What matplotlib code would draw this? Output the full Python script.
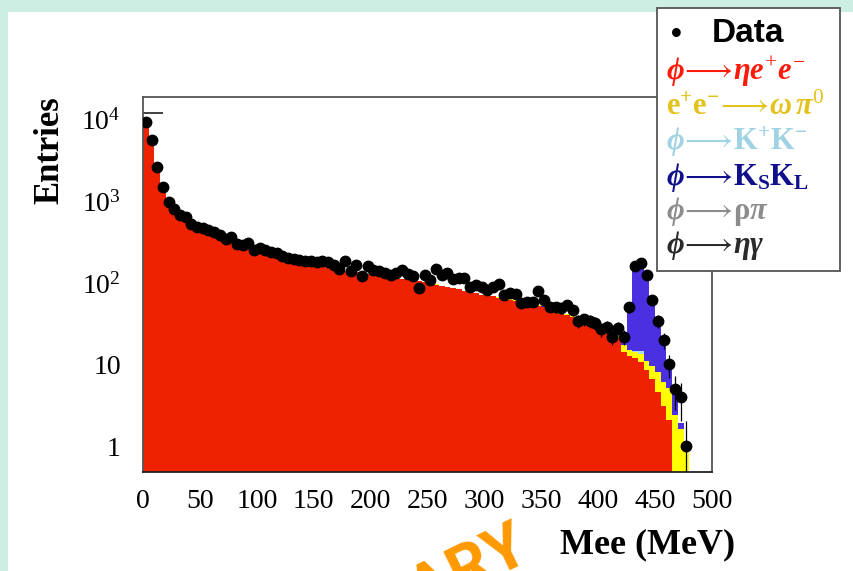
import numpy as np
import matplotlib.pyplot as plt
from matplotlib.patches import Rectangle

# --- histogram data: 5 MeV bins from 0 to 500 MeV ---
bin_edges = np.arange(0, 505, 5)

data_counts = [
    9500, 5600, 2600, 1500, 980, 800, 670, 640, 530, 485,
    470, 440, 425, 390, 345, 360, 300, 290, 305, 250,
    265, 254, 240, 235, 215, 200, 198, 191, 188, 184,
    182, 184, 180, 165, 147, 186, 138, 166, 120, 163,
    145, 141, 132, 125, 131, 144, 128, 120, 86, 125,
    109, 147, 125, 131, 111, 115, 114, 90, 95, 89,
    82, 88, 96, 71, 75, 73, 56, 59, 59, 80,
    62, 51, 50, 49, 54, 46, 34, 36, 34, 32,
    27, 29, 22, 28, 22, 50, 162, 174, 125, 62,
    34, 20, 10, 5, 4, 1, 0, 0, 0, 0,
]

# phi -> eta e+ e- (signal MC)
eta_ee = [
    9000, 5200, 2400, 1400, 900, 740, 630, 580, 510, 465,
    440, 420, 400, 375, 350, 335, 315, 300, 285, 270,
    255, 240, 228, 216, 205, 196, 188, 180, 173, 167,
    160, 156, 152, 148, 144, 141, 138, 135, 132, 130,
    128, 125, 122, 119, 116, 113, 110, 107, 104, 101,
    98, 95, 92, 89, 86, 83, 80, 77, 74, 71,
    70, 68, 66, 64, 62, 60, 58, 56, 54, 52,
    50, 47, 45, 42, 40, 38, 35, 33, 31, 29,
    27, 25, 23, 21, 14, 12.5, 12, 10.5, 8.5, 6.5,
    4.5, 3, 2, 0, 0, 0, 0, 0, 0, 0,
]

# e+e- -> omega pi0
omega_pi0 = [
    0, 0, 0, 0, 0, 0, 0, 0, 0, 0,
    0, 0, 0, 0, 0, 0, 0, 0, 0, 0,
    0, 0, 0, 0, 0, 0, 0, 0, 0, 0,
    0, 0, 0, 0, 0, 0, 0, 0, 0, 0,
    0, 0, 0, 0, 0, 0, 0, 0, 0.5, 0.5,
    0.5, 0.5, 0.5, 0.5, 0.5, 0.5, 0.5, 0.5, 0.5, 0.5,
    0.8, 0.8, 0.8, 0.8, 0.8, 1, 1, 1, 1, 1,
    1, 1, 1, 1.2, 1.2, 1.2, 1.2, 1.3, 1.3, 1.4,
    1.5, 1.5, 2, 2, 3.3, 2.5, 2, 3, 2.5, 3,
    3.5, 3, 3, 2.3, 1.5, 1, 0, 0, 0, 0,
]

# phi -> K+ K-
k_charged = [0] * 86 + [0.6, 1] + [0] * 12

# phi -> Ks KL
ks_kl = [
    0, 0, 0, 0, 0, 0, 0, 0, 0, 0,
    0, 0, 0, 0, 0, 0, 0, 0, 0, 0,
    0, 0, 0, 0, 0, 0, 0, 0, 0, 0,
    0, 0, 0, 0, 0, 0, 0, 0, 0, 0,
    0, 0, 0, 0, 0, 0, 0, 0, 0, 0,
    0, 0, 0, 0, 0, 0, 0, 0, 0, 0,
    0, 0, 0, 0, 0, 0, 0, 0, 0, 0,
    0.5, 0.5, 0.5, 0.5, 0.5, 0.5, 0.5, 0.5, 0.5, 0.5,
    1, 1, 1, 1, 1.5, 35, 147, 138, 98, 52,
    27, 15, 5.5, 2.2, 0.3, 0, 0, 0, 0, 0,
]

# phi -> eta gamma (only a short outline at low mass)
etagamma_edges = [0.0, 17.5]
etagamma_counts = [12000]

xticks = [0, 50, 100, 150, 200, 250, 300, 350, 400, 450, 500]
yticks = [1, 10, 100, 1000, 10000]
ytick_labels = ['1', '10', r'$10^{2}$', r'$10^{3}$', r'$10^{4}$']

legend_labels = [
    r'$\phi\!\longrightarrow\!\eta e^{+}e^{-}$',
    r'$\mathbf{e^{+}e^{-}}\!\longrightarrow\!\omega\,\pi^{0}$',
    r'$\phi\!\longrightarrow\!\mathbf{K^{+}K^{-}}$',
    r'$\phi\!\longrightarrow\!\mathbf{K_{S}K_{L}}$',
    r'$\phi\!\longrightarrow\!\mathbf{\rho}\pi$',
    r'$\phi\!\longrightarrow\!\eta\gamma$',
]
legend_colors = ['#ff1a0a', '#e3c21c', '#9fd3e3', '#10108c', '#8c8c8c', '#2a2a2a']

# --- style ---
plt.rcParams['font.family'] = ['Liberation Serif', 'DejaVu Serif']
plt.rcParams['mathtext.fontset'] = 'custom'
plt.rcParams['mathtext.rm'] = 'Liberation Serif'
plt.rcParams['mathtext.it'] = 'Liberation Serif:italic:bold'
plt.rcParams['mathtext.bf'] = 'Liberation Serif:bold'

W, H = 854, 571
fig = plt.figure(figsize=(W / 100, H / 100), dpi=100, facecolor='#cdeee2')
fig.patches.append(Rectangle((8 / W, 0), 1, 1 - 12 / H, transform=fig.transFigure,
                             facecolor='white', edgecolor='none', zorder=-10))

ax = fig.add_axes([143 / W, 99 / H, 569 / W, 375 / H])

# --- stacked MC ---
floor = np.full(len(eta_ee), 0.1)
top_red = floor + np.array(eta_ee, float)
top_yel = top_red + np.array(omega_pi0, float)
top_kk = top_yel + np.array(k_charged, float)
top_ks = top_kk + np.array(ks_kl, float)

ax.stairs(top_red, bin_edges, baseline=floor, fill=True, color='#ee2200', lw=0)
ax.stairs(top_yel, bin_edges, baseline=top_red, fill=True, color='#ffff00', lw=0)
ax.stairs(top_kk, bin_edges, baseline=top_yel, fill=True, color='#a6dcf0', lw=0)
ax.stairs(top_ks, bin_edges, baseline=top_kk, fill=True, color='#4a30e0', lw=0)
ax.stairs(etagamma_counts, etagamma_edges, baseline=None, color='#333333', lw=1.3)

# --- data points ---
centers = 0.5 * (bin_edges[:-1] + bin_edges[1:])
d = np.array(data_counts, float)
m = d > 0
err = np.sqrt(d[m])
ax.errorbar(centers[m], d[m], yerr=[np.minimum(err, 0.99 * d[m]), err], fmt='o',
            color='black', ms=7.5, elinewidth=0.9, capsize=0, zorder=5)

ax.set_yscale('log')
ax.set_xlim(0, 500)
ax.set_ylim(0.48, 1.9e4)
ax.set_xticks(xticks)
ax.set_yticks(yticks, labels=ytick_labels)
ax.minorticks_off()
ax.tick_params(length=0, labelsize=20)
ax.tick_params(axis='x', pad=12)
ax.tick_params(axis='y', pad=16)
for s in ax.spines.values():
    s.set_color('#555555')
    s.set_linewidth(1.3)
ax.spines['bottom'].set_color('#222222')

fig.text(50 / W, 1 - 150 / H, 'Entries', rotation=90, ha='center', va='center',
         fontsize=25, fontweight='bold')
fig.text(735 / W, 1 - 545 / H, 'Mee (MeV)', ha='right', va='center',
         fontsize=26, fontweight='bold')

# --- legend box ---
fig.patches.append(Rectangle((657 / W, 1 - 271 / H), 183 / W, 263 / H, transform=fig.transFigure,
                             facecolor='white', edgecolor='#555555', lw=1.3, zorder=5))
fig.text(676 / W, 1 - 35 / H, '\u2022', ha='center', va='center', fontsize=22,
         family='Liberation Sans', fontweight='bold', zorder=6)
fig.text(712 / W, 1 - 34 / H, 'Data', ha='left', va='center', fontsize=24,
         family='Liberation Sans', fontweight='bold', zorder=6)
row_y = [72, 107, 142, 177, 212, 245]
for lab, col, yy in zip(legend_labels, legend_colors, row_y):
    fig.text(666 / W, 1 - yy / H, lab, ha='left', va='center', fontsize=22,
             color=col, zorder=6)

# --- watermark ---
fig.text(532 / W, 1 - 558 / H, 'PRELIMINARY', rotation=26, rotation_mode='anchor',
         ha='right', va='baseline', fontsize=46, fontweight='bold', family='Roboto',
         color='#ff9900', zorder=7)

fig.savefig('out.png', dpi=100, facecolor=fig.get_facecolor())
